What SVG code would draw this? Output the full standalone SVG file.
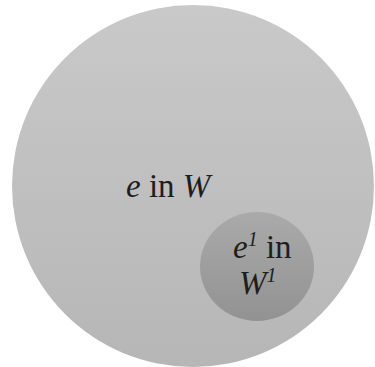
<svg xmlns="http://www.w3.org/2000/svg" width="375" height="367" viewBox="0 0 375 367">
<defs>
<linearGradient id="gBig" x1="0" y1="0" x2="0" y2="1">
<stop offset="0" stop-color="#c9c9c9"/>
<stop offset="1" stop-color="#b6b6b6"/>
</linearGradient>
<linearGradient id="gSmall" x1="0" y1="0" x2="0" y2="1">
<stop offset="0" stop-color="#aaaaaa"/>
<stop offset="1" stop-color="#929292"/>
</linearGradient>
</defs>
<style>
.lbl{font-family:"Liberation Serif","Times New Roman",serif;font-size:33px;fill:#1e1e1e}
.it{font-style:italic}
</style>
<rect width="375" height="367" fill="#ffffff"/>
<g id="outer">
<ellipse cx="193" cy="186" rx="181" ry="181" fill="url(#gBig)"/>
<text class="lbl" x="126" y="197"><tspan class="it">e</tspan> in <tspan class="it">W</tspan></text>
</g>
<g id="inner">
<ellipse cx="257" cy="266.5" rx="57" ry="54.5" fill="url(#gSmall)"/>
<text class="lbl" x="233" y="258"><tspan class="it">e</tspan><tspan class="it" font-size="20" dy="-12">1</tspan><tspan dy="12"> in</tspan></text>
<text class="lbl" x="239" y="294"><tspan class="it">W</tspan><tspan class="it" font-size="20" dy="-12">1</tspan></text>
</g>
<g id="connectors"/>
</svg>
